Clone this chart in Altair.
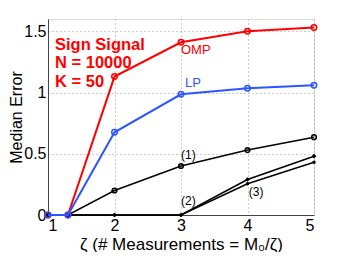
import altair as alt
import pandas as pd

zeta = [1, 1.3, 2, 3, 4, 5]
omp = [0, 0, 1.13, 1.41, 1.50, 1.53]
lp = [0, 0, 0.675, 0.985, 1.035, 1.06]
s1 = [0, 0, 0.20, 0.40, 0.53, 0.635]
s2 = [0, 0, 0, 0, 0.29, 0.48]
s3 = [0, 0, 0, 0, 0.255, 0.43]

x_ticks = [1, 2, 3, 4, 5]
y_ticks = [0, 0.5, 1, 1.5]

info_text = ["Sign Signal", "N = 10000", "K = 50"]
info_x = [1.105, 1.105, 1.105]
info_y = [1.347, 1.2, 1.045]

lab_text = ["OMP", "LP", "(1)", "(2)", "(3)"]
lab_x = [3.0, 3.06, 3.0, 3.0, 4.02]
lab_y = [1.347, 1.078, 0.49, 0.117, 0.19]
lab_col = ["#ff0000", "#2d55ff", "black", "black", "black"]
lab_size = [13, 13, 12, 12, 12]

RED = "#ff0000"
BLUE = "#2d55ff"

xs = alt.Scale(domain=[1, 5], nice=False, zero=False)
ys = alt.Scale(domain=[0, 1.6], nice=False)

xax = alt.Axis(values=x_ticks, format="~g", grid=True, gridDash=[1, 3], gridColor="#999",
               ticks=False, labelFontSize=16, labelColor="black", labelPadding=2,
               title="ζ (# Measurements = M₀/ζ)", titleFontSize=17, titleFontWeight="normal",
               titlePadding=3, domainColor="#444")
yax = alt.Axis(values=y_ticks, format="~g", grid=True, gridDash=[1, 3], gridColor="#999",
               ticks=False, labelFontSize=16, labelColor="black", labelPadding=2,
               title="Median Error", titleFontSize=16, titleFontWeight="normal",
               titleX=-32, titleY=98, titleBaseline="middle", titleAngle=270,
               domainColor="#444")


def series(vals, color, shape, filled, size, sw=1.5):
    df = pd.DataFrame({"z": zeta, "v": vals})
    base = alt.Chart(df).encode(x=alt.X("z:Q", scale=xs, axis=xax),
                                y=alt.Y("v:Q", scale=ys, axis=yax))
    line = base.mark_line(color=color, strokeWidth=sw)
    pts = base.mark_point(color=color, shape=shape, filled=filled, size=size,
                          strokeWidth=1.5, opacity=1)
    return line + pts


layers = [
    series(s3, "black", "circle", True, 12),
    series(s2, "black", "diamond", True, 22),
    series(s1, "black", "circle", False, 22),
    series(omp, RED, "circle", False, 30, 2),
    series(lp, BLUE, "circle", False, 30, 2),
]

info_df = pd.DataFrame({"t": info_text, "x": info_x, "y": info_y})
info = alt.Chart(info_df).mark_text(align="left", baseline="alphabetic", fontSize=16.5,
                                    fontWeight="bold", color=RED, font="Liberation Sans").encode(
    x=alt.X("x:Q", scale=xs), y=alt.Y("y:Q", scale=ys), text="t:N")

lab_df = pd.DataFrame({"t": lab_text, "x": lab_x, "y": lab_y, "c": lab_col, "s": lab_size})
labs = alt.Chart(lab_df).mark_text(align="left", baseline="middle", font="Liberation Sans").encode(
    x=alt.X("x:Q", scale=xs), y=alt.Y("y:Q", scale=ys), text="t:N",
    color=alt.Color("c:N", scale=None), size=alt.Size("s:Q", scale=None))

chart = alt.layer(*layers, info, labs).properties(
    width=266, height=196,
    autosize=alt.AutoSizeParams(type="none"),
    padding={"left": 40, "top": 11, "right": 24, "bottom": 37},
    background="white",
).configure_view(stroke="#444", strokeWidth=1).configure(
    font="Liberation Sans"
).configure_axis(labelFont="Liberation Sans", titleFont="Liberation Sans")

chart.save("out.html", embed_options={"renderer": "svg", "actions": False})
